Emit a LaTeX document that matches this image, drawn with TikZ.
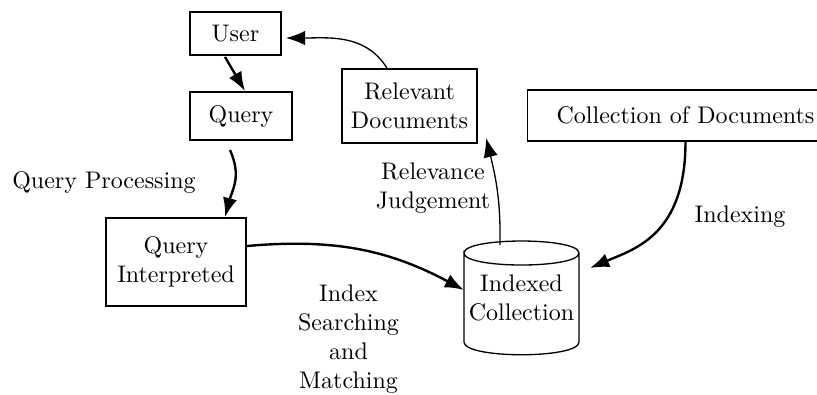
\documentclass[tikz,border=0pt]{standalone}
\usetikzlibrary{arrows.meta}
\begin{document}
\begin{tikzpicture}[x=0.41667pt,y=0.41667pt,
  box/.style={draw,line width=0.8pt,inner sep=0pt,align=center},
  lab/.style={align=center,inner sep=0pt},
  thickarrow/.style={line width=1pt,-{Latex[length=8pt,width=6pt]}},
  thinarrow/.style={line width=0.55pt,-{Latex[length=8pt,width=6pt]}}]
\useasboundingbox (0,0) rectangle (817,-394);
\clip (0,0) rectangle (817,-394);

% boxes
\node[box,minimum width=37.9pt,minimum height=17.9pt] (user) at (235.5,-33.5) {User};
\node[box,minimum width=42.5pt,minimum height=20pt] (query) at (241,-116) {Query};
\node[box,minimum width=56.3pt,minimum height=30.8pt] (reldocs) at (409.5,-106) {Relevant\\Documents};
\node[box,line width=0.5pt,minimum width=132pt,minimum height=21.3pt] (coll) at (685.5,-115.5) {Collection of Documents};
\node[box,minimum width=58.3pt,minimum height=36.7pt] (qi) at (176,-262) {Query\\Interpreted};

% indexed collection (cylinder)
\node[lab,minimum width=48pt,minimum height=37pt] (idx) at (521.5,-298) {Indexed\\Collection};
\begin{scope}[shift={(idx.center)},line width=0.55pt]
  \draw (-57.5,45) .. controls (-57.5,61) and (57.5,61) .. (57.5,45)
        .. controls (57.5,29) and (-57.5,29) .. (-57.5,45)
        -- (-57.5,-44) .. controls (-57.5,-61) and (57.5,-61) .. (57.5,-44)
        -- (57.5,45);
\end{scope}

% labels
\node[lab] (lqp) at (104,-182) {Query Processing};
\node[lab] (lrj) at (433,-188) {Relevance\\Judgement};
\node[lab] (lix) at (740,-217) {Indexing};
\node[lab] (lism) at (348.5,-339) {Index\\Searching\\and\\Matching};

% connectors
\draw[thickarrow] ([shift={(-10.5,-1)}]user.south) -- ([shift={(4,0)}]query.north);
\draw[thickarrow] ([shift={(-11,-9)}]query.south) to[out=-66,in=75,looseness=1.1] ([shift={(49,0)}]qi.north);
\draw[thickarrow] ([shift={(0,16)}]qi.east) to[out=5,in=152] ([shift={(-57.5,8)}]idx.center);
\draw[thinarrow] ([shift={(-21.5,53)}]idx.center) to[out=89,in=-76] ([shift={(8,6)}]reldocs.south east);
\draw[thinarrow] ([shift={(-22.5,0)}]reldocs.north) to[out=122,in=0] ([shift={(4,-4.5)}]user.east);
\draw[thickarrow] (coll.south) to[out=-90,in=23,out looseness=1.5,in looseness=0.8] ([shift={(68.5,30)}]idx.center);
\end{tikzpicture}
\end{document}
